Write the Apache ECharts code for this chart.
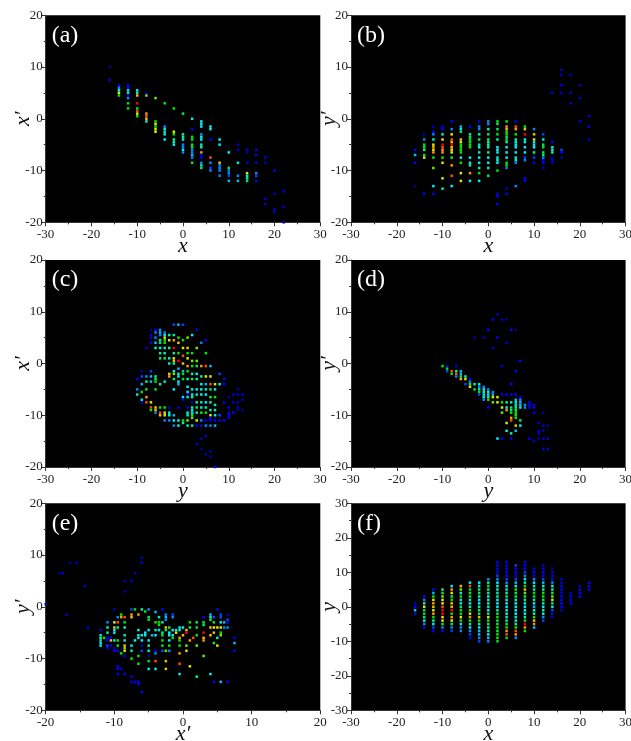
<!DOCTYPE html>
<html><head><meta charset="utf-8">
<style>html,body{margin:0;padding:0;background:#fff}#c{width:631px;height:741px}</style>
<script src="https://cdn.jsdelivr.net/npm/echarts@6/dist/echarts.min.js"></script>
</head><body><div id="c"></div>
<script>
// Each row: first number is the column coordinate, then (value, level) pairs. Levels run 1 (dark blue) to 9 (red).
const columnsA = [
[-16,10,1,7.5,2],
[-14,6.5,2,6,3,5.5,4,5,7,4.5,6],
[-12,6.5,2,6,2,5.5,4,5,5,4.5,2,4,3,3,6,2,6],
[-10,5.5,4,5,5,4.5,7.5,3,9,2,6,1.5,8.5,1,7,0.5,6],
[-8,5,1.5,4.5,6.5,1,8,0.5,8.5,0,7.5,-0.5,4],
[-6,4,6.5,-0.5,6,-1,7,-1.5,6,-2,7,-2.5,7],
[-4,3,6,-1.5,3,-2,4,-2.5,5,-3,4,-4,4],
[-2,2,6,-2.5,7,-3,6,-4,5,-4.5,5,-5,4],
[0,1,5.5,-3,5,-3.5,5,-4,4,-5,3,-5.5,3,-6,4,-6.5,3],
[2,0,4,-2,2,-3.5,6,-4,6,-5,6,-5.5,6,-6,3,-6.5,3,-7,3.5,-7.5,3,-8.5,5.5],
[4,-0.5,4,-1,4,-1.5,4,-3,3,-3.5,4,-4,4,-5,5,-5.5,5,-6.5,8,-7,2,-7.5,2,-8.5,3,-9,5,-9.5,5.5],
[6,-1.5,4,-2,4,-4,2,-7.5,8.5,-8.5,3,-9.5,2.5,-10,3],
[8,-4,4,-5,4,-8.5,7.5,-9,3,-9.5,3,-10,3,-11,3],
[10,-6.5,4,-9.5,5.5,-10,3,-10.5,3,-11,2.5,-12,3.5],
[12,-5,1.5,-6,1.5,-8.5,4.5,-11,3,-12,3.5],
[14,-6,1.5,-6.5,1,-8.5,1.5,-10.5,7,-11,5,-11.5,5,-12,5.5],
[16,-6,2,-7,2,-8.5,1.5,-10.5,3,-11,2.5,-12,2],
[18,-7.5,1.5,-8.5,1.5,-15.5,1.5,-16.5,1.5],
[20,-10,2,-14.5,1.5,-17.5,1.5,-18,1.5],
[22,-14,1.5,-17,1.5,-20,1.5]
];
const columnsB = [
[-16,-6,2,-7,3.5,-8.5,2,-13,1],
[-14,-3,1.5,-4,3,-5,6,-5.5,6,-6,5,-7,6,-7.5,7,-14.5,2],
[-12,-1.5,1.5,-2.5,2,-3,3,-4,5,-5,7,-5.5,8,-6,7,-6.5,8,-7.5,6,-9.5,6.5,-13,4,-14.5,2],
[-10,-1.5,2,-2,2,-3,4.5,-4,7,-5,9,-5.5,8.5,-6,8,-6.5,8,-7.5,6,-8.5,7,-11.5,7,-13.5,5],
[-8,-0.5,2,-2,3,-3,7,-4,8.5,-4.5,7.5,-5,9,-5.5,7.5,-6,7,-6.5,7,-7.5,5.5,-9,8,-11,8.5,-13,4],
[-6,-1.5,3.5,-2,4,-2.5,5.5,-4,7.5,-4.5,7,-5,6,-5.5,6,-6,6,-6.5,6,-7.5,4,-8.5,6,-10.5,7,-12,7],
[-4,-1.5,2,-3,5,-3.5,5.5,-4,6,-4.5,6,-5,6,-5.5,6,-7.5,4,-8.5,4.5,-9,5,-10.5,8,-12,4],
[-2,-0.5,2,-1.5,3,-2,3,-3,5,-4,5.5,-5,5,-5.5,4,-6.5,5,-7.5,4,-8.5,4,-9.5,5,-10.5,6,-12,4],
[0,-0.5,3,-1,3,-2,5,-3,5.5,-4,5.5,-4.5,5,-5,4.5,-5.5,5,-6.5,5,-7.5,4,-8.5,4,-9.5,5,-11,5.5],
[2,-0.5,6,-1,5.5,-2,5.5,-3,6,-4,5,-5.5,4,-6,4,-6.5,4,-7.5,4.5,-8,4,-8.5,4,-10,6,-14.5,2,-15,2,-16.5,2],
[4,-0.5,6,-1.5,8,-2,7.5,-2.5,6,-3,6,-3.5,5.5,-4,5.5,-4.5,5,-5.5,4,-6.5,4,-7.5,4,-8.5,6,-9,6,-9.5,3,-13.5,1.5,-14.5,2],
[6,-0.5,2,-1.5,8.5,-2,8,-3,6,-4,5,-4.5,4,-5,4,-5.5,4,-6.5,4,-7.5,5,-8,4,-8.5,3,-13,3],
[8,-1.5,6,-2,7.5,-3,9,-4,4,-4.5,4,-5.5,4,-6.5,4,-7.5,2.5,-8,3,-11.5,2,-12,2],
[10,-2,3,-3,7.5,-4,7,-4.5,4,-5,4,-5.5,4,-6.5,5,-7.5,2.5,-8.5,2],
[12,-3,2.5,-4,5,-5,5.5,-5.5,6,-6.5,5.5,-7,5.5,-7.5,3,-8,2,-8.5,2,-9.5,1.5],
[14,5,1.5,-4.5,2,-5.5,4.5,-6,4.5,-6.5,4.5,-7.5,1,-8,1.5,-8.5,1.5],
[16,9.5,1.5,8.5,1.5,6.5,2,5,1.5,-6,2.5,-6.5,2,-7.5,1],
[18,8.5,1.5,5,1.5,3,1.5],
[20,6.5,1.5,4,1.5,-0.5,1.5],
[22,0.5,1.5,-1.5,2,-4,1.5]
];
const columnsC = [
[-10,-3,2,-5,3,-6,5],
[-9,-1.5,1,-2.5,2.5,-4,3.5,-5.5,6,-7,5,-7.5,2],
[-8,3,1.5,-2.5,3,-3.5,5,-5,6,-6.5,8,-7.5,8.5],
[-7,6.5,1,5.5,1.5,5,1.5,4,2,-1.5,2.5,-2.5,3.5,-3.5,3.5,-7.5,7,-8.5,8.5,-9,6],
[-6,6.5,2,6,3,5,3,4,3.5,3,4.5,-2.5,5,-3,5.5,-3.5,6,-5,6,-8.5,7.5,-9,7.5,-9.5,3],
[-5,6.5,3,6,3.5,5.5,3,4.5,5,4,5.5,3,4.5,2,5,1,5.5,-4,5,-8.5,6,-9.5,8.5,-10,7.5],
[-4,6,3,5.5,4,5,7,4.5,6,4,6,3,5,2,5,1,5.5,-3.5,5,-8.5,6,-9.5,7,-10,7,-11,3],
[-3,5.5,5,4.5,7,3,5,1,5,0,5,-2,7.5,-2.5,8,-8.5,1.5,-9.5,4.5,-10,4,-11,3],
[-2,7.5,2.5,5.5,5,4.5,8,3,9,2,5,1,7,0.5,7.5,0,5,-1.5,4,-2,6.5,-3,5.5,-5,4,-10,3.5,-11,4,-12,3],
[-1,7.5,3.5,5,6,4,7.5,2,6,0.5,9,-1,3.5,-2,4.5,-2.5,4,-3.5,4,-4,3.5,-8.5,2,-11,4,-12,4],
[0,7.5,2.5,4.5,6,3,7,1.5,8.5,0,7.5,-1.5,3.5,-2,6,-3,6,-6.5,4,-7,2,-11,6,-11.5,5],
[1,5,6.5,3,7.5,2,6,1,7,-0.5,8,-1.5,6,-3,5,-4.5,4,-5.5,4,-6,2,-6.5,5,-8.5,2,-9.5,4,-10,5,-11,6.5,-12,5],
[2,5.5,4,2,6,0.5,6.5,-0.5,6,-2,5,-3,5.5,-5,4,-6,4,-6.5,5,-7.5,1.5,-8.5,5,-9,4,-9.5,4,-10,6,-10.5,6.5,-12,5],
[3,6.5,2,3,6.5,0.5,6.5,-0.5,5.5,-2,4,-3,5,-5,4,-6,5,-7.5,5,-8.5,5.5,-9.5,5,-11,7,-12,2,-15.5,1.5],
[4,4,3,-0.5,8,-2.5,5,-4,4,-5,4,-6,4,-7.5,5,-8.5,4.5,-9.5,6,-11,3,-12,2,-14.5,1.5,-16.5,1],
[5,4.5,2,2,6,-0.5,8.5,-2.5,7,-4,3.5,-5,5,-6,4,-7.5,4,-8.5,5,-9.5,6,-11,2,-12,3,-14,1.5,-17.5,1.5],
[6,-0.5,3.5,-2.5,7,-4,8.5,-5,5.5,-6.5,5.5,-7.5,5,-9,5,-10,7,-10.5,2,-11,2,-12,3,-17,1.5,-18,1],
[7,-4,7,-5,4,-6.5,6,-8,5,-9,4.5,-10,4,-11,2,-12,3.5,-20,2],
[8,-2,2.5,-4,4,-10,2.5,-11,2],
[9,-3,2,-4,2,-7.5,2,-11,2],
[10,-6.5,1,-8.5,2,-9.5,2,-10,2,-10.5,2],
[11,-6,1.5,-7.5,1.5,-9.5,2],
[12,-5,1,-6,1.5,-7.5,1.5,-8.5,1.5,-9,1],
[13,-6,1.5,-7,1.5,-9,1]
];
const columnsD = [
[-10,-0.5,6],
[-9,-0.5,2,-1,6,-1.5,2.5],
[-8,-1.5,8.5,-2,6],
[-7,-0.5,1.5,-1.5,5,-2,8.5,-2.5,3],
[-6,-1.5,3.5,-2,3.5,-2.5,5.5,-3,7.5],
[-5,-2.5,5,-3,7,-4,2.5],
[-4,-3,2,-3.5,3,-4,5.5,-4.5,7],
[-3,5,1,-4,5,-5,6],
[-2,-4,4,-4.5,3,-5,5,-5.5,6,-6,2.5],
[-1,5,1.5,-4.5,3,-5,4,-5.5,4,-6,4,-6.5,4,-7,3],
[0,6.5,2,-5,3,-5.5,4,-6,4.5,-6.5,4.5,-7,6,-8.5,2],
[1,8.5,2,3,1.5,-5.5,3,-6,3.5,-6.5,7,-7.5,6.5],
[2,9.5,1.5,5,2,-6.5,7,-7.5,7,-14.5,4],
[3,8.5,1.5,-0.5,1.5,-6,2,-7.5,6,-8.5,7,-9.5,6.5,-14.5,2],
[4,8.5,1,4,1.5,-6,2,-7.5,5,-8.5,4,-9,8,-11.5,7,-13,4],
[5,6.5,2,-4,2,-6,2,-7.5,5,-8.5,5.5,-9,5.5,-9.5,6,-10.5,8,-11,8.5,-13.5,5,-14.5,2],
[6,6.5,1,-1.5,2,-6,2,-7,3.5,-7.5,4,-8,5,-8.5,5,-9,5.5,-9.5,6,-10,6,-10.5,6,-12,7.5,-13,3.5],
[7,0.5,2,-6.5,2,-7,3,-7.5,3.5,-8,3.5,-8.5,4,-11,5.5,-12,4],
[8,-8,3,-8.5,3],
[9,-7.5,2,-8,2,-8.5,2,-14.5,2],
[10,-8,1.5,-8.5,2,-9.5,2,-15,1.5],
[11,-11.5,1.5,-13,1.5,-13.5,1.5,-14.5,1.5],
[12,-9.5,1,-12,1.5,-13,1.5,-14.5,1.5,-16.5,1.5],
[13,-12,1,-14.5,1.5,-16.5,1.5]
];
const columnsE = [
[-20,0.5,1.5],[-18,6.5,1],[-17.5,6.5,1.5],[-17,-1.5,1.5],[-16.5,8.5,1],[-15.5,8.5,1.5],[-14.3,4,1.5],[-13.8,-4,1.5],
[-12,-4.5,2,-5.5,5,-6,5,-6.5,5,-7,4,-7.5,4],
[-11.5,-6,6],
[-11,-3,3,-4,5,-5,5,-6,2,-6.5,2,-7.5,2.5,-8,2],
[-10.5,-6,2,-6.5,7.5,-7.5,2],
[-10,-0.5,1.5,-3,7,-4,7.5,-4.5,4,-5,4,-6.5,5,-8,1.5,-8.5,2],
[-9.5,-2,3,-3,8.5,-4,5,-6.5,6,-7.5,6,-8.5,2,-11.5,2,-12,2,-13,2],
[-9,-1.5,6,-2,8,-9,6,-12,1.5],
[-8.5,5,1,3,1,-2,8.5,-3,6,-4,4.5,-5.5,5,-6.5,4.5,-7.5,7.5,-8,6.5,-8.5,7,-9.5,2,-13,2],
[-7.5,5,1.5,-0.5,2.5,-1.5,8,-2,7.5,-7.5,4,-8.5,5,-10,6,-13.5,2,-14.5,2],
[-7,6.5,1.5,-0.5,6,-6.5,4,-14.5,2],
[-6.5,-1.5,8,-4.5,4,-5.5,4.5,-6,4,-9.5,6,-11,6,-14.5,2,-15,1.5],
[-6,9.5,1.5,8.5,1.5,-0.5,5,-5.5,4,-6.5,4,-7.5,1.5,-8.5,2.5,-16.5,2],
[-5.5,-0.9,6,-5,4,-5.5,4],
[-5,-0.5,3,-2,5.5,-2.5,6,-4.5,4,-6.5,4,-7.5,5,-8.5,4,-9.5,1,-10.5,6,-12,4],
[-4.5,-5.5,3.5],
[-4,-1,3.5,-3,6,-4.5,5,-5.5,4,-8.5,2,-9,3,-10.5,8.5,-12,4],
[-3.5,-2,5,-3,6,-3.5,6,-4.5,4],
[-3,-0.5,2,-3,5,-5,5,-5.5,6,-6.5,6,-7.5,6,-8.5,2.5],
[-2.5,-1.5,3,-2,3.5,-2.5,3,-4,7.5,-4.5,5.5,-8.5,6.5,-10.5,7.5,-12,7.5],
[-2,-4,5.5,-5,4,-5.5,4,-6.5,4,-7.5,6,-8.5,3],
[-1.5,-1.5,2.5,-2,3,-4.5,4,-5.5,4,-6,6],
[-1,-4.5,4,-5,7],
[-0.5,-4,4,-4.5,5,-6,8,-6.5,6,-7.5,6,-9,8,-11,8.5,-13,4],
[0,-4,4,-5.5,7.5],
[0.5,-4.5,7.5,-5,9,-7.5,6.5,-8.5,7],
[1,-3,6,-4,5.5,-6.5,8,-11.5,7],
[1.5,-6,8.5],
[2,-3,5.5,-4,6,-5.5,6,-7.5,6.5,-13.5,5],
[3,-2,2,-3,5.5,-3.5,5.5,-5,9,-6,7.5,-6.5,8,-9.5,6.5],
[4,-1.5,3.5,-2,4,-2.5,5.5,-4,7.5,-5.5,7.5,-13,4],
[4.5,-2,2.5,-3,5.5,-4,7,-5,7.5,-7,5.5,-14.5,2],
[5,-0.5,2,-4,7,-6,4.5,-7.5,7],
[5.5,-1.5,2.5,-2,2.5,-3,4,-4,7,-5,6,-5.5,6.5,-14.5,3.5],
[6,-3,3.5,-4,3],
[6.5,-1.5,1.5,-2.5,2.5,-3,2,-4,3,-14.5,2],
[7.5,-6,2,-7,3.5,-8.5,2]
];
const columnsF = [
[-16,1,1.5,0,2,-1,3.5,-2,2],
[-14,3,2,2,3,1,5,0,7,-1,6,-2,6,-3,5.5,-4,4,-5,3,-6,2],
[-12,5,2,4,3.5,3,6,2,7,1,8,0,7.5,-1,7,-2,8,-3,6,-4,5,-5,4,-6,2.5,-7,2],
[-10,5,5,4,5.5,3,6.5,2,7,1,7,0,8.5,-1,9,-2,9,-3,7,-4,7,-5,5.5,-6,3,-7,2],
[-8,6,4,5,8,4,7,3,5.5,2,6,1,7.5,0,7.5,-1,9,-2,6,-3,8,-4,7,-5,5.5,-6,3,-7,2.5],
[-6,6,7.5,5,6.5,4,4,3,6,2,5,1,4,0,5.5,-1,6,-2,6,-3,7,-4,6,-5,4,-6,3,-7,3],
[-4,7,4,6,8.5,5,6,4,5.5,3,6,2,5,1,4,0,5,-1,6,-2,7,-3,8,-4,6,-5,5,-6,4,-7,3,-8,2.5,-9,2],
[-2,7,4,6,4.5,5,5.5,4,5.5,3,5,2,4,1,4,0,5,-1,5.5,-2,5.5,-3,7.5,-4,6,-5,5,-6,4,-7,3.5,-8,3.5,-9,3,-10,2.5],
[0,8,3,7,5,6,6,5,5.5,4,5,3,4.5,2,4,1,5,0,4.5,-1,4,-2,5.5,-3,7,-4,6,-5,5.5,-6,5,-7,4.5,-8,4,-9,3.5,-10,3],
[2,13,2,12,2,11,2,10,2,9,2.5,8,3,7,4,6,4,5,5,4,5,3,5,2,4,1,4,0,4,-1,5,-2,5.5,-3,6,-4,5.5,-5,5.5,-6,6,-7,5.5,-8,6,-9,6,-10,6],
[4,13,2,12,2,11,2,10,2,9,2,8,2.5,7,3,6,4,5,5,4,5,3,5.5,2,4,1,4,0,4,-1,4,-2,4.5,-3,4.5,-4,5,-5,5.5,-6,6,-7,8,-8,8.5,-9,6],
[6,12,2.5,11,2,10,2,9,2,8,2.5,7,3.5,6,4,5,6,4,5.5,3,5.5,2,4.5,1,4,0,4,-1,4,-2,4,-3,4.5,-4,4.5,-5,5,-6,6,-7,8.5,-8,8,-9,3],
[8,13,2,12,2,11,2,10,2.5,9,3,8,4,7,5,6,6,5,7.5,4,6.5,3,5.5,2,5,1,4.5,0,4,-1,4,-2,4,-3,5,-4,6,-5,9,-6,8,-7,6],
[10,11,2,10,2,9,2,8,3,7,4,6,4.5,5,5,4,6,3,6,2,5,1,4,0,3.5,-1,4,-2,5,-3,6,-4,7.5,-5,8,-6,3.5],
[12,12,1.5,11,1.5,10,2,9,2,8,2.5,7,3.5,6,4.5,5,5,4,6,3,6,2,5.5,1,5,0,4,-1,5,-2,4,-3,3,-4,2.5],
[14,11,1,10,1.5,9,2,8,2,7,3,6,4,5,5,4,5.5,3,6.5,2,7,1,5.5,0,4,-1,2.5,-2,2,-3,1.5],
[16,8,1.5,7,1.5,6,2,5,2,4,2,3,2,2,2,1,2,0,2,-1,1.5],
[18,4,1.5,3,2,2,2,1,2],
[20,6,1.5,5,2,4,2,3,2],
[22,7,2,6,2,5,2]
];
const letters = ['(a)','(b)','(c)','(d)','(e)','(f)'];
const xNames = ['x','x','y','y','x\u2032','x'];
const yNames = ['x\u2032','y\u2032','x\u2032','y\u2032','y\u2032','y'];
const xRanges = [[-30,30],[-30,30],[-30,30],[-30,30],[-20,20],[-30,30]];
const yRanges = [[-20,20],[-20,20],[-20,20],[-20,20],[-20,20],[-30,30]];
const allColumns = [columnsA,columnsB,columnsC,columnsD,columnsE,columnsF];

const FONT = '"Liberation Serif","Times New Roman",serif';
const lefts = [45.7,351], tops = [15.3,260,503.3], W = 274.6, H = 207;

function expand(cols){
  const out = [];
  cols.forEach(r => { for(let i=1;i<r.length;i+=2) out.push([r[0],r[i],r[i+1]]); });
  return out;
}
const grid=[],xAxis=[],yAxis=[],series=[],title=[];
letters.forEach((t,i)=>{
  const l = lefts[i%2], tp = tops[Math.floor(i/2)];
  grid.push({left:l,top:tp,width:W,height:H,backgroundColor:'#000',show:true,borderWidth:0,outerBoundsMode:'none'});
  const axisBase = {
    type:'value',gridIndex:i,interval:10,
    splitLine:{show:false},
    axisLine:{show:true,onZero:false,lineStyle:{color:'#333',width:1}},
    axisTick:{show:true,length:4,inside:false,lineStyle:{color:'#333',width:1}},
    minorTick:{show:true,splitNumber:2,length:2,lineStyle:{color:'#333',width:1}},
    nameLocation:'middle',nameMoveOverlap:false,
    nameTextStyle:{color:'#111',fontFamily:FONT,fontStyle:'italic',fontSize:22}
  };
  const lab = m => ({color:'#222',fontFamily:FONT,fontSize:13,margin:m,showMinLabel:true,showMaxLabel:true});
  xAxis.push(Object.assign({},axisBase,{min:xRanges[i][0],max:xRanges[i][1],name:xNames[i],nameGap:13,axisLabel:lab(6)}));
  yAxis.push(Object.assign({},axisBase,{min:yRanges[i][0],max:yRanges[i][1],name:yNames[i],nameGap:11,axisLabel:lab(3)}));
  series.push({type:'scatter',xAxisIndex:i,yAxisIndex:i,symbol:'rect',symbolSize:2.5,
    data:expand(allColumns[i]),silent:true,animation:false,itemStyle:{opacity:1}});
  title.push({text:t,left:l+1,top:tp+3,textStyle:{color:'#fff',fontFamily:FONT,fontSize:24,fontWeight:'normal'}});
});
const chart = echarts.init(document.getElementById('c'),null,{renderer:'canvas'});
chart.setOption({
  backgroundColor:'#fff',animation:false,title,grid,xAxis,yAxis,series,
  visualMap:{show:false,type:'continuous',dimension:2,min:1,max:9,seriesIndex:[0,1,2,3,4,5],
    inRange:{color:['#00009c','#0000ff','#0088ff','#00f0f0','#00f0a8','#00e800','#e0e800','#ff9800','#ff0000']}}
});
</script></body></html>
